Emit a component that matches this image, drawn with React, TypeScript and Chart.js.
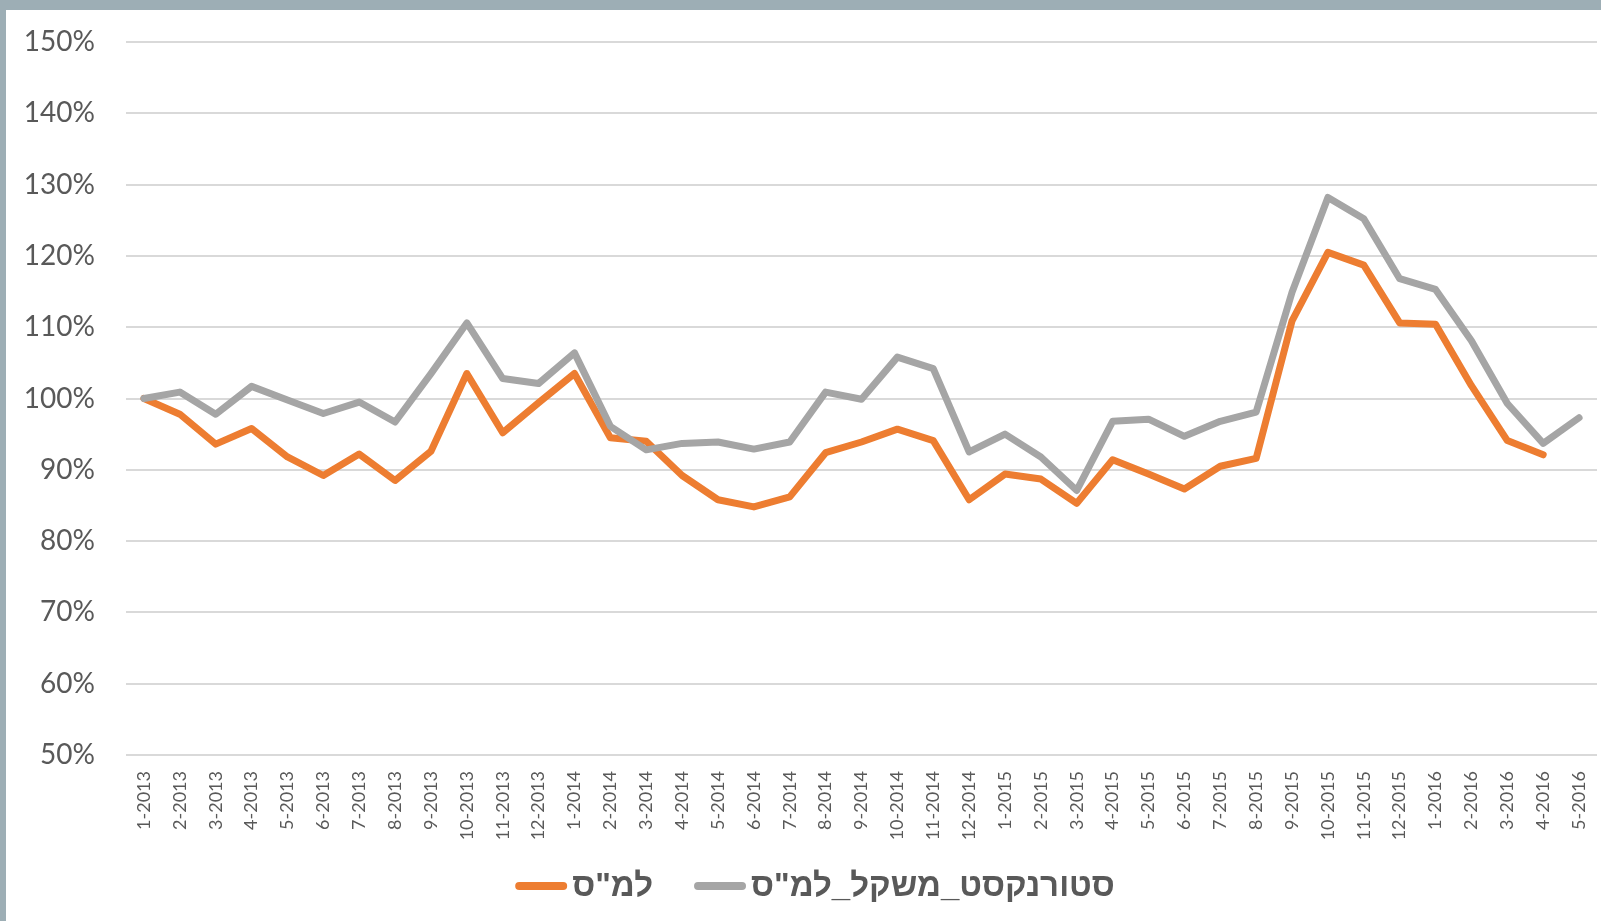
import React, { useEffect, useRef } from "react";
import { Chart, registerables } from "chart.js";

Chart.register(...registerables);

const months: string[] = [
  "1-2013", "2-2013", "3-2013", "4-2013", "5-2013", "6-2013", "7-2013", "8-2013", "9-2013", "10-2013", "11-2013", "12-2013",
  "1-2014", "2-2014", "3-2014", "4-2014", "5-2014", "6-2014", "7-2014", "8-2014", "9-2014", "10-2014", "11-2014", "12-2014",
  "1-2015", "2-2015", "3-2015", "4-2015", "5-2015", "6-2015", "7-2015", "8-2015", "9-2015", "10-2015", "11-2015", "12-2015",
  "1-2016", "2-2016", "3-2016", "4-2016", "5-2016",
];

const lamasLabel = 'למ"ס';
const lamasValues: (number | null)[] = [
  100, 97.8, 93.6, 95.8, 91.8, 89.2, 92.2, 88.5, 92.6, 103.5, 95.2, 99.4,
  103.5, 94.5, 94.0, 89.2, 85.8, 84.8, 86.2, 92.4, 93.9, 95.7, 94.1, 85.8,
  89.4, 88.7, 85.3, 91.4, 89.4, 87.3, 90.5, 91.6, 110.9, 120.5, 118.7, 110.6,
  110.4, 101.8, 94.1, 92.1, null,
];

const storenextLabel = 'סטורנקסט_משקל_למ"ס';
const storenextValues: number[] = [
  100, 100.9, 97.8, 101.7, 99.8, 97.9, 99.5, 96.7, 103.5, 110.6, 102.8, 102.1,
  106.4, 96.1, 92.8, 93.7, 93.9, 92.9, 93.9, 100.9, 99.9, 105.8, 104.2, 92.5,
  95.0, 91.8, 87.1, 96.8, 97.1, 94.7, 96.8, 98.1, 114.9, 128.2, 125.2, 116.8,
  115.3, 108.1, 99.3, 93.7, 97.3,
];

const yMin = 50;
const yMax = 150;
const yStep = 10;

const ORANGE = "#ED7D31";
const GRAY = "#A5A5A5";
const TEXT = "#595959";
const TICK_FONT = "Lato, 'Open Sans', sans-serif";
const LEGEND_FONT = "bold 33px 'Liberation Sans', Arial, sans-serif";

// Legend drawn on the canvas below the axis labels (line marker to the left of each label).
const bottomLegend = {
  id: "bottomLegend",
  afterDraw(chart: any) {
    const ctx: CanvasRenderingContext2D = chart.ctx;
    const items = [...chart.data.datasets].reverse().map((d: any) => ({
      text: d.label as string,
      color: d.borderColor as string,
    }));
    const lineLen = 44;
    const lineW = 8;
    const gapLineText = 9;
    const gapItems = 45;
    ctx.save();
    ctx.font = LEGEND_FONT;
    const widths = items.map((it) => ctx.measureText(it.text).width);
    let total = 0;
    items.forEach((_, i) => {
      total += lineLen + gapLineText + widths[i];
      if (i < items.length - 1) total += gapItems;
    });
    const centerX = chart.width / 2 + 13.5;
    const y = chart.height - 35;
    let x = centerX - total / 2;
    ctx.textBaseline = "middle";
    ctx.textAlign = "left";
    items.forEach((it, i) => {
      ctx.beginPath();
      ctx.lineCap = "round";
      ctx.lineWidth = lineW;
      ctx.strokeStyle = it.color;
      ctx.moveTo(x, y);
      ctx.lineTo(x + lineLen, y);
      ctx.stroke();
      x += lineLen + gapLineText;
      ctx.fillStyle = TEXT;
      ctx.fillText(it.text, x, y + 1);
      x += widths[i] + gapItems;
    });
    ctx.restore();
  },
};

export default function App() {
  const canvasRef = useRef<HTMLCanvasElement | null>(null);

  useEffect(() => {
    if (!canvasRef.current) return;
    const chart = new Chart(canvasRef.current, {
      type: "line",
      data: {
        labels: months,
        datasets: [
          {
            label: storenextLabel,
            data: storenextValues,
            borderColor: GRAY,
            backgroundColor: GRAY,
            borderWidth: 7,
            borderCapStyle: "round",
            borderJoinStyle: "round",
            pointRadius: 0,
            tension: 0,
          },
          {
            label: lamasLabel,
            data: lamasValues,
            borderColor: ORANGE,
            backgroundColor: ORANGE,
            borderWidth: 7,
            borderCapStyle: "round",
            borderJoinStyle: "round",
            pointRadius: 0,
            tension: 0,
          },
        ],
      },
      options: {
        animation: false,
        responsive: true,
        maintainAspectRatio: false,
        layout: { padding: { left: 0, right: 4, top: 32, bottom: 0 } },
        plugins: {
          tooltip: { enabled: false },
          legend: { display: false },
        },
        scales: {
          x: {
            type: "category",
            offset: true,
            grid: { display: false, drawTicks: false },
            border: { display: false },
            ticks: {
              autoSkip: false,
              minRotation: 90,
              maxRotation: 90,
              padding: 16,
              color: TEXT,
              font: { family: TICK_FONT, size: 18 },
            },
            afterFit: (scale: any) => {
              scale.height = 166;
              scale.paddingLeft = 0;
              scale.paddingRight = 0;
            },
          },
          y: {
            min: yMin,
            max: yMax,
            grid: { color: "#D9D9D9", lineWidth: 2, drawTicks: false },
            border: { display: false },
            ticks: {
              stepSize: yStep,
              padding: 31,
              color: TEXT,
              font: { family: TICK_FONT, size: 28 },
              callback: (v: any) => `${v}%`,
            },
            afterFit: (scale: any) => {
              scale.width = 120;
              scale.paddingTop = 0;
              scale.paddingBottom = 0;
            },
          },
        },
      },
      plugins: [bottomLegend],
    });
    return () => chart.destroy();
  }, []);

  return (
    <div
      style={{
        position: "fixed",
        left: 0,
        top: 0,
        width: 1601,
        height: 921,
        boxSizing: "border-box",
        background: "#FFFFFF",
        borderTop: "10px solid #9DAEB5",
        borderLeft: "6px solid #9DAEB5",
      }}
    >
      <div style={{ position: "relative", width: 1595, height: 911 }}>
        <canvas ref={canvasRef} />
      </div>
    </div>
  );
}
